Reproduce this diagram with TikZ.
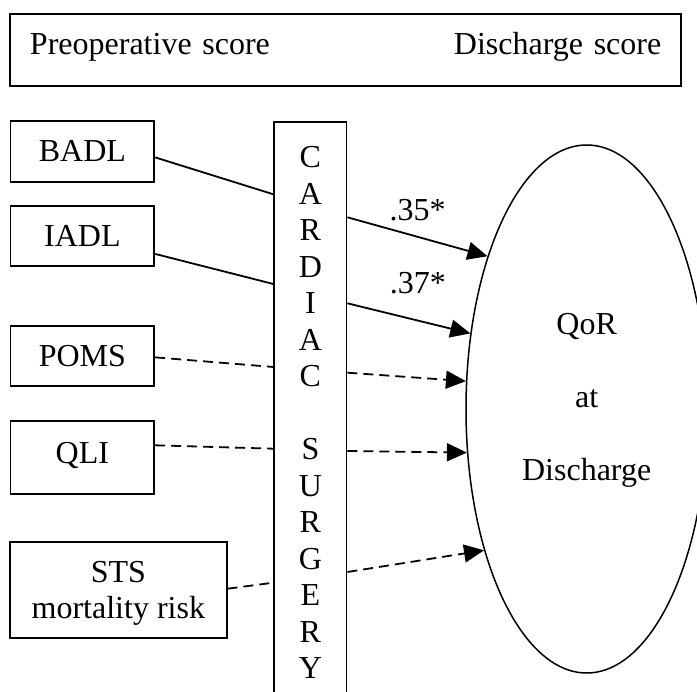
\documentclass[tikz,border=0pt]{standalone}
\usepackage{fontspec}
\setmainfont{Liberation Serif}
\usetikzlibrary{arrows.meta,shapes.geometric}

\begin{document}
\begin{tikzpicture}[x=1pt,y=-1pt,
  every node/.style={font=\fontsize{32}{36.5}\selectfont, inner sep=0pt},
  box/.style={draw, line width=1.8pt, text height=21.2pt, text depth=0pt},
  link/.style={line width=1.8pt},
  dashlink/.style={line width=1.8pt, dash pattern=on 10pt off 6pt},
  arr/.style={-{Triangle[length=20pt,width=18pt]}},
]
\useasboundingbox (0,0) rectangle (697,692);
\clip (0,0) rectangle (697,692);

% header box with the two time points
\node[box, minimum width=671.3pt, minimum height=72pt, text width=631.3pt,
      text depth=12.6pt] (head) at (345.65,50)
      {Preoperative score\hfill Discharge score};

% preoperative predictors
\node[box, minimum width=143.8pt, minimum height=61pt]   (badl) at (82.4,151.2) {BADL};
\node[box, minimum width=143.8pt, minimum height=59.7pt] (iadl) at (82.4,235.85) {IADL};
\node[box, minimum width=143.8pt, minimum height=60.3pt] (poms) at (82.4,355.85) {POMS};
\node[box, minimum width=143.8pt, minimum height=72.4pt, text depth=8.6pt] (qli) at (82.4,457.5) {QLI};
% multi-line nodes: height and depth are measured from the last baseline
\node[box, minimum width=216.7pt, minimum height=96pt, align=center,
      text height=58.2pt, text depth=0.8pt] (sts) at (118.35,590) {STS\\mortality risk};

% the surgery column, running past the lower edge
\node[draw, line width=1.8pt, anchor=north, minimum width=72.2pt, minimum height=581.6pt,
      align=center] (card) at (310.4,121)
      {C\\A\\R\\D\\I\\A\\C\\\mbox{}\\S\\U\\R\\G\\E\\R\\Y};

% outcome
\node[draw, ellipse, line width=1.5pt, minimum width=241.4pt, minimum height=528pt,
      align=center, text height=167.7pt, text depth=25.1pt] (qor) at (586.7,409)
      {QoR\\\mbox{}\\at\\\mbox{}\\Discharge};

% points where the paths meet the surgery column
\coordinate (w1) at ([yshift=-73.3pt]card.north west);
\coordinate (w2) at ([yshift=-163pt]card.north west);
\coordinate (w3) at ([yshift=-246pt]card.north west);
\coordinate (w4) at ([yshift=-327.7pt]card.north west);
\coordinate (w5) at ([yshift=-461.7pt]card.north west);
\coordinate (e1) at ([yshift=-96.3pt]card.north east);
\coordinate (e2) at ([yshift=-182.3pt]card.north east);
\coordinate (e3) at ([yshift=-251.7pt]card.north east);
\coordinate (e4) at ([yshift=-330pt]card.north east);
\coordinate (e5) at ([yshift=-451pt]card.north east);

% predictor to surgery
\draw[link]     ([yshift=-6.2pt]badl.east)  -- (w1);
\draw[link]     ([yshift=-18.1pt]iadl.east) -- (w2);
\draw[dashlink] ([yshift=-1.5pt]poms.east)  -- (w3);
\draw[dashlink] ([yshift=12.2pt]qli.east)   -- (w4);
\draw[dashlink] ([yshift=1.3pt]sts.east)    -- (w5);

% surgery to outcome
\draw[link, arr]     (e1) -- (qor.123.7);
\draw[link, arr]     (e2) -- (qor.147.6);
\draw[dashlink, arr] (e3) -- (qor.167.2);
\draw[dashlink, arr] (e4) -- (qor.200.7);
\draw[dashlink, arr] (e5) -- (qor.234.9);

% path coefficients
\node[anchor=base] (c35) at (417.5,220.7) {.35*};
\node[anchor=base] (c37) at (417.9,293.3) {.37*};
\end{tikzpicture}
\end{document}
